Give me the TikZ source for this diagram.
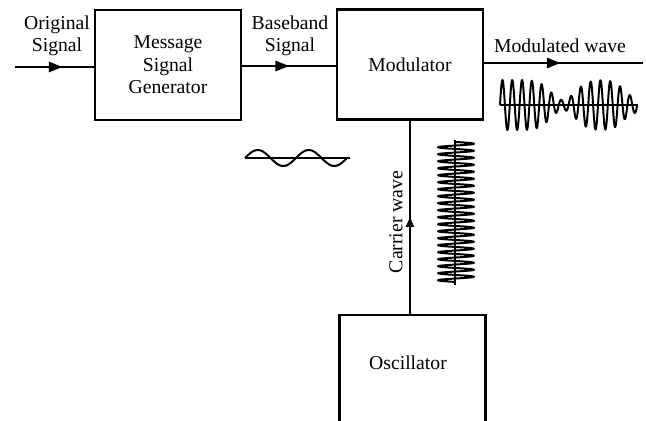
\documentclass[tikz,border=0pt]{standalone}
\usepackage{fontspec}
\setmainfont{Liberation Serif}
\usepackage{tikz}
\usetikzlibrary{arrows.meta,calc}
\tikzset{
  blk/.style={draw,line width=1.5pt,minimum width=3.65cm,minimum height=2.75cm,align=center,font=\fontsize{14}{16}\selectfont},
  lbl/.style={align=center,font=\fontsize{14}{16}\selectfont,inner sep=1pt},
  line/.style={line width=1.3pt},
  arr/.style={line width=1.3pt,-{Triangle[length=0.34cm,width=0.26cm]}},
  oarr/.style={line width=1.3pt,-{Triangle[open,length=0.24cm,width=0.2cm]}},
  wave/.style={line width=1.4pt,line join=round},
}
\begin{document}
\begin{tikzpicture}[x=0.025cm,y=-0.025cm]
\useasboundingbox (0,0) rectangle (646,421);
\clip (0,0) rectangle (646,421);
\node[blk] (gen) at (168,65) {Message\\ Signal\\ Generator};
\node[blk] (mod) at (410,64.5) {Modulator};
\node[blk,minimum height=3cm] (osc) at (412.5,375) {};
\node[lbl] (losc) at (408,363) {Oscillator};
\coordinate (in) at (15,67);
\coordinate (out) at (643,63);
\draw[line] (in) -- (in -| gen.west);
\draw[arr] (in) -- ($(in)!0.6!(in -| gen.west)$);
\draw[line] (gen.east |- 0,66) -- (mod.west |- 0,66);
\draw[arr] (gen.east |- 0,66) -- ($(gen.east |- 0,66)!0.5!(mod.west |- 0,66)$);
\draw[line] (mod.east |- out) -- (out);
\draw[arr] (mod.east |- out) -- ($(mod.east |- out)!0.48!(out)$);
\draw[line] (mod.south |- osc.north) -- (mod.south);
\draw[oarr] (mod.south |- osc.north) -- ($(mod.south |- osc.north)!0.5!(mod.south)$);
\node[lbl] (lorig) at (57,36) {Original\\ Signal};
\node[lbl] (lbase) at (290,36) {Baseband\\ Signal};
\node[lbl] (lmodw) at (560,46) {Modulated wave};
\node[lbl,rotate=90] (lcarr) at (396,222) {Carrier wave};
\draw[wave] (245,158) -- (350,158);
\draw[wave] plot[domain=245:347,samples=90] (\x,{158-8*sin((\x-245)*7.0588)});
\draw[wave] (500,105) -- (638,105);
\draw[wave] plot[domain=500:637,samples=500] (\x,{105-(25-20*exp(max(-9,-((\x-563)/17)*((\x-563)/17)))-17*exp(max(-9,-((\x-635)/15)*((\x-635)/15))))*sin((\x-500)*36.73)});
\draw[wave] (455,140) -- (455,285);
\draw[wave] plot[domain=142:282,samples=500] ({456+18*sin((\x-142)*51.43)},\x);
\end{tikzpicture}
\end{document}
